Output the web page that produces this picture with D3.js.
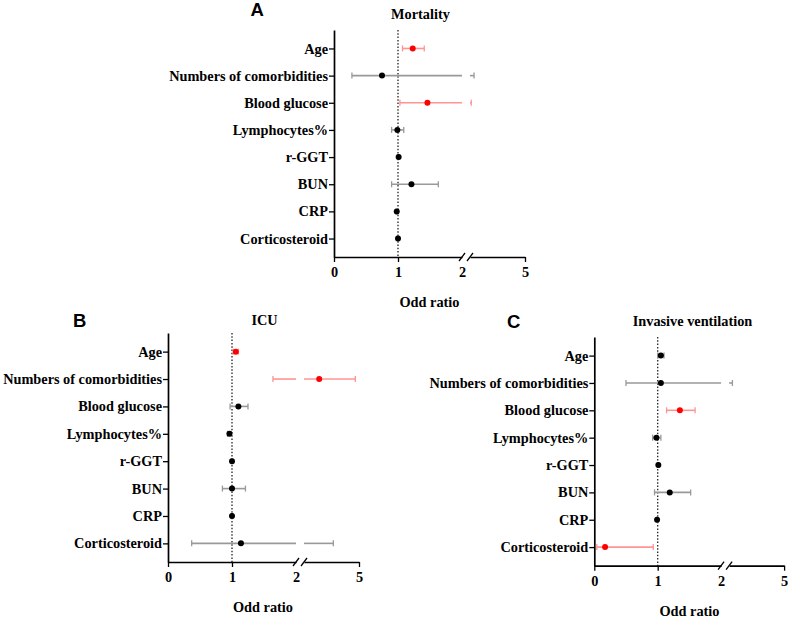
<!DOCTYPE html>
<html>
<head>
<meta charset="utf-8">
<script src="https://cdn.jsdelivr.net/npm/d3@7"></script>
<style>
  html, body { margin: 0; padding: 0; background: #fff; }
  svg { display: block; }
</style>
</head>
<body>
<svg id="chart" width="790" height="619"></svg>
<script>
// ---------------- data ----------------
const categories = ["Age", "Numbers of comorbidities", "Blood glucose", "Lymphocytes%", "r-GGT", "BUN", "CRP", "Corticosteroid"];
const xTickValues = [0, 1, 2, 5];

const mortalityOR   = [1.23, 0.75, 1.46, 0.99, 1.01, 1.21, 0.98, 1.00];
const mortalityLow  = [1.07, 0.28, 1.03, 0.90, 1.00, 0.90, 0.97, 0.99];
const mortalityHigh = [1.41, 2.22, 2.07, 1.09, 1.02, 1.63, 1.00, 1.01];
const mortalitySig  = [true, false, true, false, false, false, false, false];

const icuOR   = [1.06, 2.83, 1.10, 0.96, 1.00, 1.00, 1.00, 1.14];
const icuLow  = [1.02, 1.64, 0.97, 0.93, 0.99, 0.85, 0.99, 0.37];
const icuHigh = [1.10, 4.80, 1.25, 0.99, 1.01, 1.21, 1.01, 3.60];
const icuSig  = [true, true, false, false, false, false, false, false];

const ventOR   = [1.05, 1.05, 1.35, 0.98, 1.01, 1.19, 0.99, 0.17];
const ventLow  = [1.00, 0.50, 1.14, 0.92, 1.00, 0.95, 0.98, 0.04];
const ventHigh = [1.10, 2.18, 1.59, 1.05, 1.02, 1.52, 1.00, 0.93];
const ventSig  = [false, false, true, false, false, false, false, true];

// ---------------- layout ----------------
const panels = [
  { letter: "A", title: "Mortality", or: mortalityOR, lo: mortalityLow, hi: mortalityHigh, sig: mortalitySig,
    x0: 334, unit: 64, yTop: 30, yBottom: 257, letterX: 250.5, letterY: 16, titleX: 420.5, titleY: 19, axisTitleX: 429.5 },
  { letter: "B", title: "ICU", or: icuOR, lo: icuLow, hi: icuHigh, sig: icuSig,
    x0: 168, unit: 64, yTop: 333, yBottom: 562, letterX: 73, letterY: 327, titleX: 264.5, titleY: 325, axisTitleX: 263 },
  { letter: "C", title: "Invasive ventilation", or: ventOR, lo: ventLow, hi: ventHigh, sig: ventSig,
    x0: 594.3, unit: 63.4, yTop: 337, yBottom: 565.7, letterX: 507, letterY: 328, titleX: 692.5, titleY: 325.7, axisTitleX: 689.5 }
];

const SERIF = '"Liberation Serif", "Times New Roman", serif';
const SANS = '"Liberation Sans", Arial, sans-serif';
const svg = d3.select("#chart");
const GAP = 8, SEG2 = 55, FS = "14.3px";

function serifText(sel) {
  return sel.style("font-family", SERIF).style("font-weight", "bold").style("font-size", FS).attr("fill", "#000");
}

panels.forEach(p => {
  const g = svg.append("g");
  const s1 = d3.scaleLinear().domain([0, 2]).range([p.x0, p.x0 + 2 * p.unit]);
  const s2 = d3.scaleLinear().domain([2, 5]).range([p.x0 + 2 * p.unit + GAP, p.x0 + 2 * p.unit + GAP + SEG2]);
  const xs = v => v <= 2 ? s1(v) : s2(v);
  const y = d3.scalePoint().domain(categories).range([p.yTop, p.yBottom]).padding(0.68);

  // panel letter & title
  g.append("text").attr("x", p.letterX).attr("y", p.letterY)
    .style("font-family", SANS).style("font-weight", "bold").style("font-size", "18.5px").attr("fill", "#000")
    .text(p.letter);
  serifText(g.append("text").attr("x", p.titleX).attr("y", p.titleY).attr("text-anchor", "middle")).text(p.title);

  // reference dotted line at OR = 1
  g.append("line").attr("x1", s1(1)).attr("x2", s1(1)).attr("y1", p.yTop).attr("y2", p.yBottom)
    .attr("stroke", "#222").attr("stroke-width", 1.3).attr("stroke-dasharray", "1.5,1.8");

  // y axis
  const ya = g.append("g").attr("transform", `translate(${p.x0},0)`)
    .call(d3.axisLeft(y).tickSize(5).tickSizeOuter(0).tickPadding(1));
  ya.select(".domain").attr("stroke", "#000").attr("stroke-width", 1.7);
  ya.selectAll(".tick line").attr("stroke", "#000").attr("stroke-width", 1.3);
  serifText(ya.selectAll(".tick text"));

  // x axis, two segments
  const xa1 = g.append("g").attr("transform", `translate(0,${p.yBottom})`)
    .call(d3.axisBottom(s1).tickValues(xTickValues.filter(v => v <= 2)).tickFormat(d3.format("d")).tickSize(5).tickSizeOuter(0).tickPadding(5));
  const xa2 = g.append("g").attr("transform", `translate(0,${p.yBottom})`)
    .call(d3.axisBottom(s2).tickValues(xTickValues.filter(v => v > 2)).tickFormat(d3.format("d")).tickSize(5).tickSizeOuter(0).tickPadding(5));
  [xa1, xa2].forEach(a => {
    a.select(".domain").attr("stroke", "#000").attr("stroke-width", 1.7);
    a.selectAll(".tick line").attr("stroke", "#000").attr("stroke-width", 1.3);
    serifText(a.selectAll(".tick text"));
  });
  xa1.selectAll(".tick").filter(d => d === 2).select("line").remove();
  // break marks
  [s1(2), s2(2)].forEach(bx => {
    g.append("line").attr("x1", bx - 3).attr("x2", bx + 3).attr("y1", p.yBottom + 4).attr("y2", p.yBottom - 4)
      .attr("stroke", "#000").attr("stroke-width", 1.3);
  });
  serifText(g.append("text").attr("x", p.axisTitleX).attr("y", p.yBottom + 50).attr("text-anchor", "middle"))
    .text("Odd ratio");

  // error bars
  const rows = categories.map((c, i) => ({ c, or: p.or[i], lo: p.lo[i], hi: p.hi[i], sig: p.sig[i] }));
  const eb = g.append("g");
  rows.forEach(r => {
    const col = r.sig ? "#ff9494" : "#999";
    const yy = y(r.c);
    const segs = [];
    if (r.hi <= 2 || r.lo >= 2) segs.push([xs(r.lo), xs(r.hi)]);
    else { segs.push([xs(r.lo), s1(2)]); segs.push([s2(2), xs(r.hi)]); }
    segs.forEach(s => eb.append("line").attr("x1", s[0]).attr("x2", s[1]).attr("y1", yy).attr("y2", yy)
      .attr("stroke", col).attr("stroke-width", 1.6));
    [xs(r.lo), xs(r.hi)].forEach(cx => eb.append("line").attr("x1", cx).attr("x2", cx)
      .attr("y1", yy - 3).attr("y2", yy + 3).attr("stroke", col).attr("stroke-width", 1.3));
  });
  g.append("g").selectAll("circle").data(rows).join("circle")
    .attr("cx", r => xs(r.or)).attr("cy", r => y(r.c)).attr("r", 3)
    .attr("fill", r => r.sig ? "#ff0000" : "#000");
});
</script>
</body>
</html>
